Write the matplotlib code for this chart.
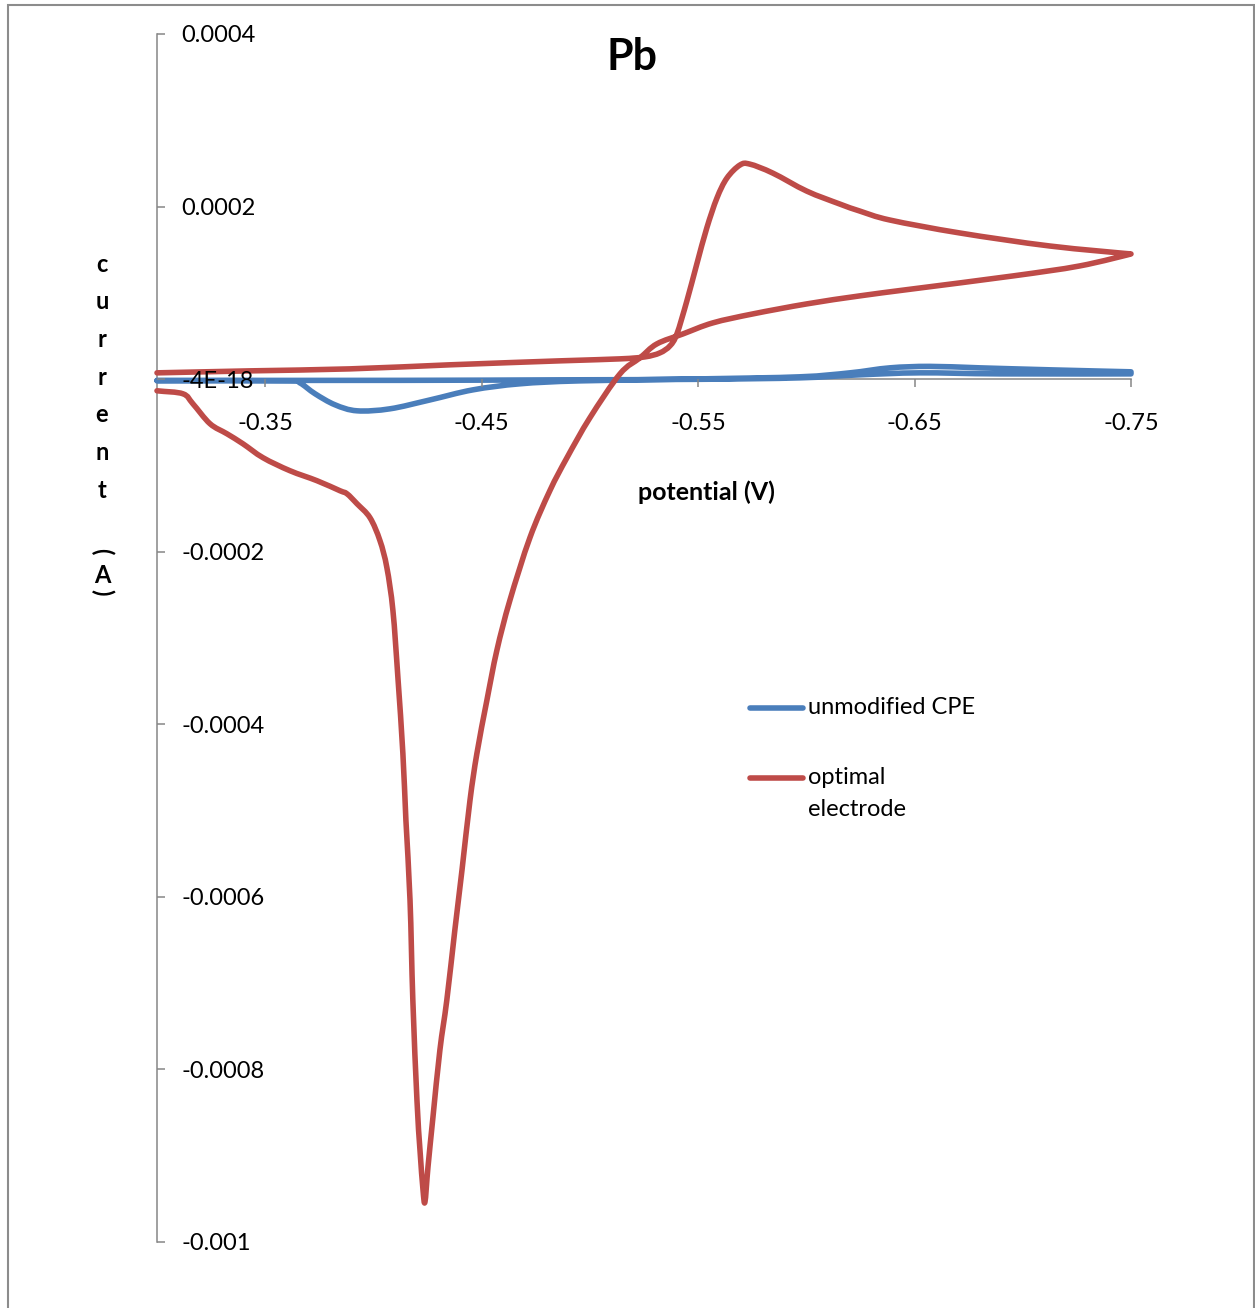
import numpy as np
import matplotlib.pyplot as plt
from matplotlib.lines import Line2D
from matplotlib.patches import Rectangle, PathPatch
from matplotlib.path import Path
from matplotlib.ticker import FixedLocator, FixedFormatter

plt.rcParams['font.family'] = ['Lato', 'DejaVu Sans']

# -------------------------
# Data (potential in V, current in A)
# -------------------------

cpe_v = [-0.3000, -0.3614, -0.3660, -0.3730, -0.3822, -0.3924, -0.4076, -0.4261,
         -0.4460, -0.4677, -0.4954, -0.5508, -0.5970, -0.6201, -0.6386, -0.6570,
         -0.6801, -0.7125, -0.7500,
         -0.7500, -0.6894, -0.6524, -0.6247, -0.5970, -0.5508, -0.4861, -0.4122,
         -0.3000]
cpe_i = [-2.0e-6, -2.0e-6, -4.3e-6, -16.9e-6, -29.7e-6, -36.7e-6, -34.4e-6, -24.1e-6,
         -12.4e-6, -5.4e-6, -2.0e-6, 0.3e-6, 2.7e-6, 7.3e-6, 13.1e-6, 14.8e-6,
         13.1e-6, 10.8e-6, 8.5e-6,
         6.1e-6, 6.1e-6, 7.3e-6, 5.0e-6, 1.5e-6, -0.2e-6, -0.8e-6, -1.4e-6,
         -1.4e-6]

opt_v = [-0.3000, -0.3430, -0.3891, -0.4353, -0.4861, -0.5139, -0.5254, -0.5323,
         -0.5370, -0.5402, -0.5448, -0.5494, -0.5540, -0.5587, -0.5633, -0.5693,
         -0.5739, -0.5845, -0.6002, -0.6155, -0.6247, -0.6386, -0.6709, -0.7125,
         -0.7500,
         -0.7263, -0.6954, -0.6492, -0.6247, -0.6002, -0.5753, -0.5568, -0.5430,
         -0.5309, -0.5231, -0.5139, -0.5000, -0.4894, -0.4815,
         -0.4723, -0.4630, -0.4570, -0.4524, -0.4478, -0.4446, -0.4409, -0.4376,
         -0.4339, -0.4307, -0.4275, -0.4252, -0.4238,
         -0.4229, -0.4215, -0.4201, -0.4182, -0.4169, -0.4150, -0.4136, -0.4113,
         -0.4090, -0.4062, -0.4030, -0.3984, -0.3924, -0.3878, -0.3845, -0.3739,
         -0.3614, -0.3490, -0.3397, -0.3323, -0.3245, -0.3166, -0.3120, -0.3000]
opt_i = [7.3e-6, 9.6e-6, 11.9e-6, 16.6e-6, 21.2e-6, 23.5e-6, 25.8e-6, 30.4e-6,
         38.6e-6, 52.4e-6, 90.6e-6, 133.4e-6, 175.1e-6, 209.9e-6, 233.0e-6, 248.1e-6,
         249.2e-6, 238.8e-6, 217.9e-6, 202.9e-6, 194.8e-6, 184.4e-6, 169.4e-6, 154.3e-6,
         145.1e-6,
         131.2e-6, 119.6e-6, 104.6e-6, 96.5e-6, 87.2e-6, 75.6e-6, 65.2e-6, 52.4e-6,
         40.8e-6, 24.6e-6, 6.1e-6, -44.8e-6, -91.1e-6, -129.3e-6,
         -183.7e-6, -256.7e-6, -314.6e-6, -372.4e-6, -433.8e-6, -488.2e-6, -569.2e-6, -638.7e-6,
         -719.7e-6, -777.6e-6, -855.2e-6, -913.1e-6, -953.6e-6,
         -939.7e-6, -893.4e-6, -835.5e-6, -719.7e-6, -603.9e-6, -511.3e-6, -433.8e-6, -345.8e-6,
         -268.2e-6, -218.4e-6, -187.1e-6, -160.6e-6, -144.4e-6, -132.9e-6, -129.3e-6, -117.7e-6,
         -106.1e-6, -91.1e-6, -74.9e-6, -63.3e-6, -51.7e-6, -28.6e-6, -17.0e-6, -13.5e-6]

x_ticks = [-0.35, -0.45, -0.55, -0.65, -0.75]
x_labels = ["-0.35", "-0.45", "-0.55", "-0.65", "-0.75"]
y_ticks = [0.0004, 0.0002, 0.0, -0.0002, -0.0004, -0.0006, -0.0008, -0.001]
y_labels = ["0.0004", "0.0002", "-4E-18", "-0.0002", "-0.0004", "-0.0006",
            "-0.0008", "-0.001"]
series_names = ["unmodified CPE", "optimal\nelectrode"]

BLUE = "#4A7EBB"
RED = "#BE4B48"
GREY = "#868686"

W, H = 1255, 1308


def fx(px):
    return px / W


def fy(py):
    return 1 - py / H


def smooth_path(xs, ys):
    # Excel-like "smoothed line": cubic Bezier through every point
    p = np.column_stack([xs, ys])
    n = len(p)
    m = np.zeros_like(p)
    m[0] = p[1] - p[0]
    m[-1] = p[-1] - p[-2]
    for i in range(1, n - 1):
        if (p[i, 0] - p[i - 1, 0]) * (p[i + 1, 0] - p[i, 0]) <= 0:
            continue  # turning point: keep it sharp
        m[i] = (p[i + 1] - p[i - 1]) / 2
    verts = [p[0]]
    codes = [Path.MOVETO]
    for i in range(n - 1):
        verts += [p[i] + m[i] / 3, p[i + 1] - m[i + 1] / 3, p[i + 1]]
        codes += [Path.CURVE4] * 3
    return Path(verts, codes)


# -------------------------
# Figure / axes
# -------------------------

fig = plt.figure(figsize=(W / 100, H / 100), dpi=100)
ax = fig.add_axes([fx(157), fy(1242), (1131 - 157) / W, (1242 - 34) / H])
ax.set_axisbelow(False)

for xs, ys, col, z in [(cpe_v, cpe_i, BLUE, 2.0), (opt_v, opt_i, RED, 2.1)]:
    ax.add_patch(PathPatch(smooth_path(xs, ys), fill=False, edgecolor=col,
                           lw=4.0, capstyle="round", joinstyle="round",
                           clip_on=False, zorder=z))

ax.set_xlim(-0.30, -0.75)
ax.set_ylim(-0.001, 0.0004)

for s in ["top", "right"]:
    ax.spines[s].set_visible(False)
ax.spines["bottom"].set_position(("data", 0))
for s in ["left", "bottom"]:
    ax.spines[s].set_color(GREY)
    ax.spines[s].set_linewidth(1.1)
    ax.spines[s].set_zorder(1.5)

ax.xaxis.set_major_locator(FixedLocator(x_ticks))
ax.xaxis.set_major_formatter(FixedFormatter(x_labels))
ax.yaxis.set_major_locator(FixedLocator(y_ticks))
ax.yaxis.set_major_formatter(FixedFormatter(y_labels))

ax.tick_params(axis="x", direction="out", length=6, width=1.1, color=GREY,
               pad=18.5, labelsize=17)
ax.tick_params(axis="y", direction="in", length=6, width=1.1, color=GREY,
               pad=-17.8, labelsize=17)
for lab in ax.get_yticklabels():
    lab.set_horizontalalignment("left")

# -------------------------
# Texts
# -------------------------

fig.text(fx(632), fy(57), "Pb", fontsize=31, fontweight="bold",
         ha="center", va="center")
fig.text(fx(706), fy(492), "potential (V)", fontsize=18, fontweight="bold",
         ha="center", va="center")

ylab = "current"
for k, ch in enumerate(ylab):
    fig.text(fx(102), fy(264 + 37.7 * k), ch, fontsize=17, fontweight="bold",
             ha="center", va="center")
fig.text(fx(102), fy(551), "(", fontsize=17, fontweight="bold",
         ha="center", va="center", rotation=-90)
fig.text(fx(102), fy(575), "A", fontsize=17, fontweight="bold",
         ha="center", va="center")
fig.text(fx(102), fy(592), ")", fontsize=17, fontweight="bold",
         ha="center", va="center", rotation=-90)

# legend drawn by hand (Excel style, handle on first line)
for name, col, py in zip(series_names, [BLUE, RED], [708, 778]):
    fig.add_artist(Line2D([fx(750), fx(803)], [fy(py), fy(py)], color=col,
                          lw=4.0, solid_capstyle="round"))
    for k, line in enumerate(name.split("\n")):
        fig.text(fx(808), fy(py + 32 * k), line, fontsize=17, ha="left",
                 va="center")

# chart border
fig.add_artist(Rectangle((fx(8), -0.02), (1254 - 8) / W, fy(5) + 0.02,
                         transform=fig.transFigure, fill=False,
                         edgecolor="#8c8c8c", lw=1.5))

fig.savefig("out.png", dpi=100)
